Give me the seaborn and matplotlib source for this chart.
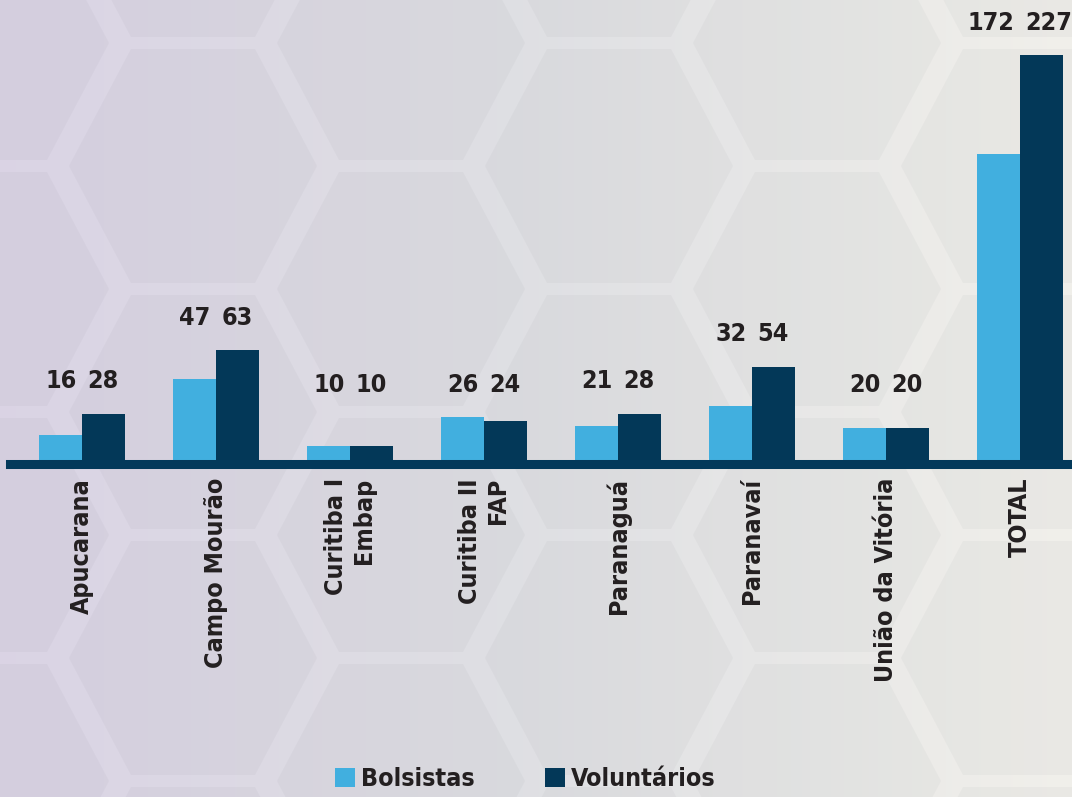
import numpy as np
import pandas as pd
import matplotlib
matplotlib.use("Agg")
import matplotlib.pyplot as plt
from matplotlib.patches import Polygon, Patch
import seaborn as sns

# data
campi = ["Apucarana", "Campo Mourão", "Curitiba I\nEmbap", "Curitiba II\nFAP",
         "Paranaguá", "Paranavaí", "União da Vitória", "TOTAL"]
bolsistas = [16, 47, 10, 26, 21, 32, 20, 172]
voluntarios = [28, 63, 10, 24, 28, 54, 20, 227]
series = ["Bolsistas", "Voluntários"]
colors = ["#41afdf", "#033858"]
text_color = "#231f20"

df = pd.DataFrame({
    "campus": campi * 2,
    "valor": bolsistas + voluntarios,
    "tipo": [series[0]] * len(campi) + [series[1]] * len(campi),
})

sns.set_style("white")
plt.rcParams["font.family"] = ["DejaVu Sans"]
plt.rcParams["font.stretch"] = "condensed"

W, H = 1072, 797
fig = plt.figure(figsize=(W / 100, H / 100), dpi=100)

# background: gradient + honeycomb
bg = fig.add_axes([0, 0, 1, 1], zorder=0)
bg.set_xlim(0, W)
bg.set_ylim(H, 0)
bg.axis("off")
stops_x = [0.0, 0.5, 1.0]
stops_c = np.array([[0.855, 0.830, 0.895], [0.875, 0.878, 0.893], [0.945, 0.940, 0.920]])
xs = np.linspace(0, 1, 400)
row = np.stack([np.interp(xs, stops_x, stops_c[:, i]) for i in range(3)], axis=-1)
grad = np.repeat(row[None, :, :], 50, axis=0)
bg.imshow(grad, extent=(0, W, H, 0), aspect="auto")
a, b = 124, 117
for k in range(-1, 7):
    cx = 193 + 208 * k
    for j in range(-1, 5):
        cy = 166 + 246 * j - (123 if k % 2 else 0)
        verts = [(cx - a, cy), (cx - a / 2, cy - b), (cx + a / 2, cy - b),
                 (cx + a, cy), (cx + a / 2, cy + b), (cx - a / 2, cy + b)]
        bg.add_patch(Polygon(verts, closed=True, facecolor=(0.30, 0.33, 0.38, 0.04),
                             edgecolor="none"))

# main chart
ax = fig.add_axes([10 / W, 333 / H, 1 - 10 / W, 1 - 333 / H], zorder=1)
ax.patch.set_alpha(0)
sns.barplot(data=df, x="campus", y="valor", hue="tipo", palette=colors,
            width=0.64, saturation=1, linewidth=0, ax=ax, legend=False)
ax.set_ylim(0, 257.5)
ax.set_xlim(-0.537, 7.388)
for s in ["top", "right", "left"]:
    ax.spines[s].set_visible(False)
ax.spines["bottom"].set_color("#03395a")
ax.spines["bottom"].set_linewidth(6.5)
ax.set_yticks([])
ax.set_xlabel("")
ax.set_ylabel("")
ax.tick_params(axis="x", length=0, pad=10)
plt.setp(ax.get_xticklabels(), rotation=90, ha="center", va="top",
         multialignment="right", fontsize=18, fontweight="bold", color=text_color)

# value labels over each pair
for i, (v1, v2) in enumerate(zip(bolsistas, voluntarios)):
    y = max(max(v1, v2) + 18, 44)
    ax.text(i - 0.04, y, str(v1), ha="right", va="center", fontsize=18,
            fontweight="bold", color=text_color)
    ax.text(i + 0.04, y, str(v2), ha="left", va="center", fontsize=18,
            fontweight="bold", color=text_color)

handles = [Patch(facecolor=c, edgecolor="none") for c in colors]
fig.legend(handles, series, loc="center", bbox_to_anchor=(0.49, 0.022), ncol=2,
           frameon=False, prop={"size": 18, "weight": "bold", "stretch": "condensed"},
           handlelength=0.8, handleheight=0.8, handletextpad=0.25, columnspacing=2.8,
           labelcolor=text_color)

fig.savefig("out.png", dpi=100)
